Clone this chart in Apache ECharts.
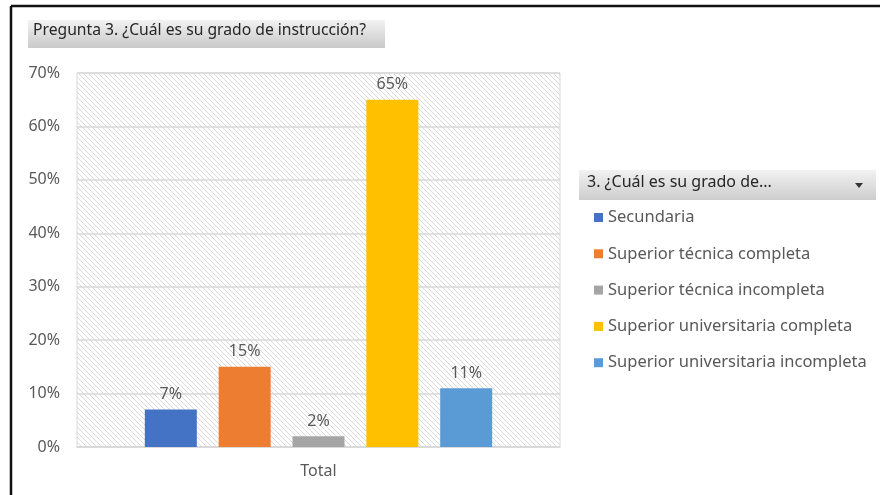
<!DOCTYPE html>
<head>
    <meta charset="utf-8">
    <title>ECharts</title>
    <style>html,body{margin:0;padding:0;background:#fff;}</style>
</head>
<body>
    <script src="https://cdn.jsdelivr.net/npm/echarts@6/dist/echarts.min.js"></script>
    <div id="main" style="width:880px;height:495px"></div>
    <script type="text/javascript">
    // datos
    var categorias = ['Total'];
    var series_nombres = ['Secundaria', 'Superior técnica completa', 'Superior técnica incompleta',
        'Superior universitaria completa', 'Superior universitaria incompleta'];
    var valores = [7, 15, 2, 65, 11];
    var colores = ['#4472C4', '#ED7D31', '#A5A5A5', '#FFC000', '#5B9BD5'];

    // trama diagonal del fondo
    var tile = document.createElement('canvas');
    tile.width = 5; tile.height = 5;
    var c = tile.getContext('2d');
    c.strokeStyle = '#dadada';
    c.lineWidth = 1;
    c.beginPath();
    c.moveTo(-1, -1); c.lineTo(6, 6);
    c.moveTo(-1, 4); c.lineTo(1, 6);
    c.moveTo(4, -1); c.lineTo(6, 1);
    c.stroke();

    var fuente = '"Noto Sans", sans-serif';
    var series = [];
    for (var i = 0; i < series_nombres.length; i++) {
        series.push({
            name: series_nombres[i],
            type: 'bar',
            barWidth: 52,
            barGap: '42%',
            itemStyle: { color: colores[i] },
            label: {
                show: true, position: 'top', distance: 7,
                formatter: '{c}%', color: '#595959', fontSize: 16, fontFamily: fuente
            },
            data: [valores[i]]
        });
    }

    var myChart = echarts.init(document.getElementById('main'));
    myChart.setOption({
        animation: false,
        textStyle: { fontFamily: fuente },
        grid: {
            left: 77, right: 320, top: 73, bottom: 48,
            show: true,
            backgroundColor: { image: tile, repeat: 'repeat' },
            borderColor: '#d9d9d9', borderWidth: 1
        },
        xAxis: {
            type: 'category',
            data: categorias,
            axisLine: { lineStyle: { color: '#d9d9d9', width: 1.5 } },
            axisTick: { show: false },
            axisLabel: { color: '#595959', fontSize: 16, margin: 16 }
        },
        yAxis: {
            type: 'value',
            min: 0, max: 70, interval: 10,
            axisLabel: { color: '#595959', fontSize: 16, margin: 17, formatter: '{value}%' },
            splitLine: { lineStyle: { color: '#d9d9d9', width: 1.5 } }
        },
        legend: {
            orient: 'vertical',
            left: 589, top: 204,
            itemWidth: 9, itemHeight: 9,
            itemGap: 19.3,
            icon: 'rect',
            textStyle: { color: '#595959', fontSize: 16.5 },
            data: series_nombres
        },
        graphic: [
            // marco negro
            { type: 'line', shape: { x1: 11, y1: 6, x2: 880, y2: 6 }, style: { stroke: '#111', lineWidth: 2.5 } },
            { type: 'line', shape: { x1: 11, y1: 6, x2: 11, y2: 495 }, style: { stroke: '#111', lineWidth: 2.5 } },
            // cuadro del titulo
            {
                type: 'rect', shape: { x: 28, y: 20, width: 357, height: 28 },
                style: {
                    fill: new echarts.graphic.LinearGradient(0, 0, 0, 1, [
                        { offset: 0, color: '#f2f2f2' }, { offset: 1, color: '#c9c9c9' }])
                }
            },
            {
                type: 'text', left: 33, top: 23,
                style: { text: 'Pregunta 3. ¿Cuál es su grado de instrucción?', fill: '#262626', fontSize: 15.7, fontFamily: fuente }
            },
            // encabezado de la leyenda
            {
                type: 'rect', shape: { x: 579, y: 170, width: 297, height: 30 },
                style: {
                    fill: new echarts.graphic.LinearGradient(0, 0, 0, 1, [
                        { offset: 0, color: '#f2f2f2' }, { offset: 1, color: '#cdcdcd' }])
                }
            },
            {
                type: 'text', left: 587, top: 174,
                style: { text: '3. ¿Cuál es su grado de...', fill: '#262626', fontSize: 16, fontFamily: fuente }
            },
            {
                type: 'polygon', shape: { points: [[855, 183], [863, 183], [859, 188]] },
                style: { fill: '#333' }
            }
        ],
        series: series
    });
    </script>
</body>
